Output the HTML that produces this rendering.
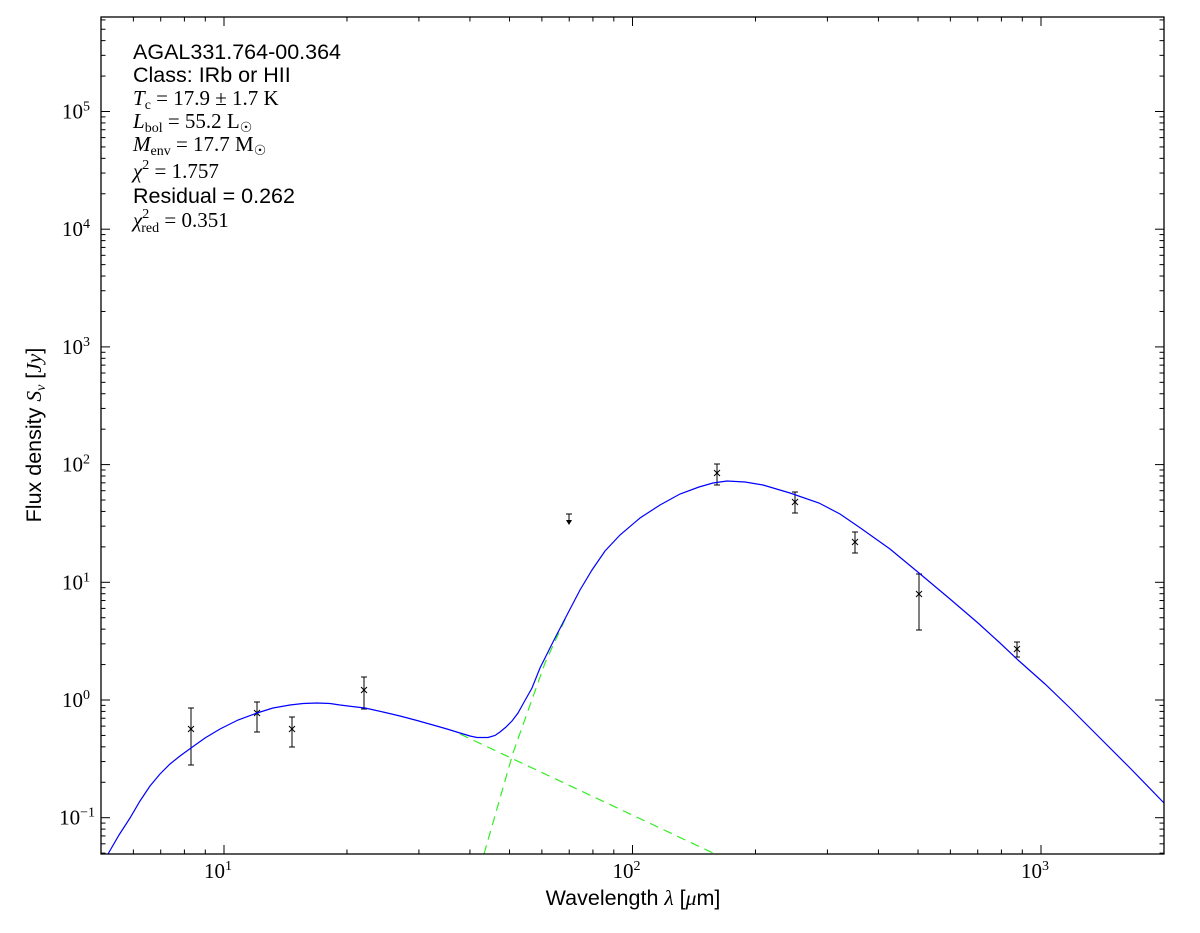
<!DOCTYPE html>
<html><head><meta charset="utf-8"><style>
html,body{margin:0;padding:0;background:#fff;}
svg{display:block;}
.t{font-family:"Liberation Serif",serif;font-size:21px;fill:#000;}
.s{font-family:"Liberation Sans",sans-serif;font-size:21.5px;fill:#000;}
</style></head><body>
<svg id="c" width="1200" height="933" xmlns="http://www.w3.org/2000/svg">
<rect width="1200" height="933" fill="#fff"/>
<g id="g"></g>
<polyline points="460,734 713,853" fill="none" stroke="#33ee22" stroke-width="1.2" stroke-dasharray="9,6"/>
<polyline points="484,854 513,753 545,663 568,613" fill="none" stroke="#33ee22" stroke-width="1.2" stroke-dasharray="9,6"/>
<polyline fill="none" stroke="#0000ff" stroke-width="1.2" points="108,854 119,835 130,818 140,801 150,786 160,774 170,764 180,756 191,748 205,738 220,729 238,720 257,713 273,708 290,705 303,703.5 317,703 330,703.5 340,705 352,706.5 365,708 383,712 400,716 417,720.5 433,725 447,729 460,733 470,736 477,737.5 488,737.5 495,735.5 500,732 506,727 512,721 518,713 523,704 532,688 540,668 554,640 568,613 580,590 592,570 605,551 620,535 640,518 660,505 680,494 699,487 713,483 727,481 745,482 763,485 790,493 819,503 840,514 859,527 890,549 919,573 950,599 978,623 1000,643 1018,660 1045,684 1070,708 1100,738 1130,768 1164,803"/>
<rect x="101" y="17" width="1063" height="837" fill="none" stroke="#000" stroke-width="1.3"/>
<g class="s">
<text x="133" y="59">AGAL331.764-00.364</text>
<text x="133" y="82">Class: IRb or HII</text>
<text x="133" y="203">Residual = 0.262</text>
</g>
<g class="t" font-style="italic">
<text x="133" y="105">T<tspan font-size="14" font-style="normal" dy="4">c</tspan><tspan font-style="normal" dy="-4"> = 17.9 ± 1.7 K</tspan></text>
<text x="133" y="128">L<tspan font-size="14" font-style="normal" dy="4">bol</tspan><tspan font-style="normal" dy="-4"> = 55.2 L</tspan><tspan font-size="14" font-style="normal" dy="4">☉</tspan></text>
<text x="133" y="151">M<tspan font-size="14" font-style="normal" dy="4">env</tspan><tspan font-style="normal" dy="-4"> = 17.7 M</tspan><tspan font-size="14" font-style="normal" dy="4">☉</tspan></text>
<text x="133" y="178">χ<tspan font-size="14" font-style="normal" dy="-9">2</tspan><tspan font-style="normal" dy="9"> = 1.757</tspan></text>
<text x="133" y="227">χ<tspan font-size="14" font-style="normal" dy="-9">2</tspan><tspan font-size="14" font-style="normal" dx="-8" dy="14">red</tspan><tspan font-style="normal" dy="-5"> = 0.351</tspan></text>
</g>
<text class="s" x="633" y="905" text-anchor="middle">Wavelength <tspan font-family="Liberation Serif" font-style="italic">λ</tspan> [<tspan font-family="Liberation Serif" font-style="italic">μ</tspan>m]</text>
<text class="s" transform="translate(41,435) rotate(-90)" text-anchor="middle">Flux density <tspan font-family="Liberation Serif" font-style="italic">S<tspan font-size="14" dy="4">ν</tspan></tspan><tspan dy="-4"> [</tspan><tspan font-family="Liberation Serif" font-style="italic">Jy</tspan>]</text>
</svg>
<script>
var g=document.getElementById('g'),h='';
function X(l){return 224+408.5*(Math.log10(l)-1);}
function Y(s){return 700-117.7*Math.log10(s);}
function L(x1,y1,x2,y2){h+='<line x1="'+x1+'" y1="'+y1+'" x2="'+x2+'" y2="'+y2+'" stroke="#000" stroke-width="1"/>';}
for(var d=0;d<4;d++)for(var k=1;k<10;k++){var l=k*Math.pow(10,d);if(l<5||l>2000)continue;var x=X(l),len=k==1?9:4.5;L(x,854,x,854-len);L(x,17,x,17+len);
 if(k==1)h+='<text class="t" x="'+(x-6)+'" y="878" text-anchor="middle">10<tspan font-size="14" dy="-8">'+d+'</tspan></text>';}
for(var d=-2;d<6;d++)for(var k=1;k<10;k++){var s=k*Math.pow(10,d);var y=Y(s);if(y>854||y<17)continue;var len=k==1?9:4.5;L(101,y,101+len,y);L(1164,y,1164-len,y);
 if(k==1)h+='<text class="t" x="'+(d<0?95:90)+'" y="'+(y+7)+'" text-anchor="end">10<tspan font-size="14" dy="-8">'+(d<0?'−1':d)+'</tspan></text>';}
var pts=[[191,729,708,765],[257,713,702,732],[292,729,717,747],[364,690,677,709],[717,473,464,485],[795,502,492,513],[855,542,532,553],[919,594,574,630],[1017,649,642,657]];
pts.forEach(function(p){L(p[0],p[2],p[0],p[3]);L(p[0]-3,p[2],p[0]+3,p[2]);L(p[0]-3,p[3],p[0]+3,p[3]);L(p[0]-3,p[1]-3,p[0]+3,p[1]+3);L(p[0]-3,p[1]+3,p[0]+3,p[1]-3);});
L(569,514,569,522);L(566,514,572,514);h+='<polygon points="566,520 572,520 569,525" fill="#000"/>';
g.innerHTML=h;
</script>
</body></html>
